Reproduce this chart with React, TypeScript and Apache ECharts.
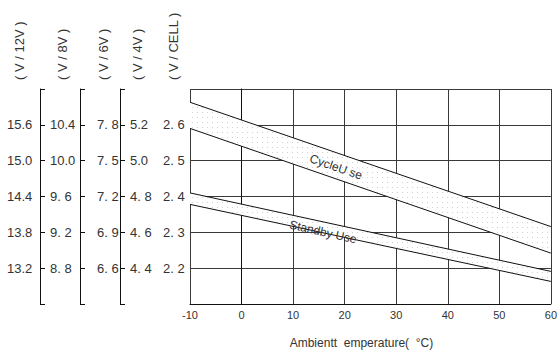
import React, { useEffect, useRef } from "react";
import * as echarts from "echarts";

// Ambient temperature (°C)
const temps = [-10, 60];
// Charging voltage per cell (V/CELL), read at -10 °C and 60 °C
const cycleUpper = [2.663, 2.316];
const cycleLower = [2.59, 2.242];
const standbyUpper = [2.41, 2.191];
const standbyLower = [2.378, 2.163];

// Tick values (V/CELL) and the labels of each voltage column
const cellTicks = [2.6, 2.5, 2.4, 2.3, 2.2];
const cellLabels = ["2. 6", "2. 5", "2. 4", "2. 3", "2. 2"];
const v4Labels = ["5.2", "5.0", "4. 8", "4. 6", "4. 4"];
const v6Labels = ["7. 8", "7. 5", "7. 2", "6. 9", "6. 6"];
const v8Labels = ["10.4", "10.0", "9. 6", "9. 2", "8. 8"];
const v12Labels = ["15.6", "15.0", "14.4", "13.8", "13.2"];
const xTitle = "Ambientt  emperature(  °C)";
const columnTitles = ["( V / 12V )", "( V / 8V )", "( V / 6V )", "( V / 4V )", "( V / CELL )"];
const cycleText = "CycleU se";
const standbyText = "Standby Use";

const FONT = "'Liberation Sans', Arial, Helvetica, sans-serif";
const TXT = "#333";

function labelFor(labels: string[]) {
  return (v: number) => {
    const i = cellTicks.findIndex((t) => Math.abs(t - v) < 1e-6);
    return i < 0 ? "" : labels[i];
  };
}

export default function App() {
  const ref = useRef<HTMLDivElement>(null);
  useEffect(() => {
    if (!ref.current) return;
    const chart = echarts.init(ref.current, undefined, { renderer: "svg" });

    const c = document.createElement("canvas");
    c.width = 5;
    c.height = 5;
    const ctx = c.getContext("2d");
    if (ctx) {
      ctx.fillStyle = "#ffffff";
      ctx.fillRect(0, 0, 5, 5);
      ctx.fillStyle = "#cfcfcf";
      ctx.fillRect(2, 2, 1, 1);
    }
    const pattern: any = { image: c, repeat: "repeat" };

    const pts = (arr: number[]) => temps.map((t, i) => [t, arr[i]]);

    const yBase = { type: "value", min: 2.1, max: 2.7, interval: 0.1, position: "left" };
    const bracketAxis = (offset: number, margin: number, labels: string[]) => ({
      ...yBase,
      offset,
      axisLine: { show: true, lineStyle: { color: "#111", width: 1 } },
      axisTick: { show: true, inside: true, length: 5, lineStyle: { color: "#111" } },
      splitLine: { show: false },
      axisLabel: {
        align: "left",
        margin,
        formatter: labelFor(labels),
        color: TXT,
        fontSize: 13,
        fontFamily: FONT,
      },
    });

    const lineStyle = { color: "#111", width: 1 };
    const titleX = [19, 62, 103, 137, 173];

    const bandSeries = (upper: number[], lower: number[]) => ({
      type: "custom",
      coordinateSystem: "cartesian2d",
      silent: true,
      z: 1,
      data: temps.map((t, i) => [t, upper[i], lower[i]]),
      encode: { x: 0, y: [1, 2] },
      renderItem: (params: any, api: any) => {
        if (params.dataIndex !== 0) return null;
        const top = temps.map((t, i) => api.coord([t, upper[i]]));
        const bottom = temps.map((t, i) => api.coord([t, lower[i]])).reverse();
        return {
          type: "polygon",
          shape: { points: [...top, ...bottom] },
          style: { fill: pattern, stroke: null },
        };
      },
    });

    const lineSeries = (arr: number[]) => ({
      type: "line",
      data: pts(arr),
      showSymbol: false,
      symbol: "none",
      lineStyle,
      silent: true,
      z: 3,
    });

    chart.setOption({
      animation: false,
      grid: { left: 190, right: 4, top: 89, bottom: 41, containLabel: false },
      xAxis: {
        type: "value",
        min: -10,
        max: 60,
        interval: 10,
        name: xTitle,
        nameLocation: "middle",
        nameGap: 33,
        nameTextStyle: { color: TXT, fontSize: 12, fontFamily: FONT, padding: [0, 18, 0, 0] },
        axisLine: { show: true, lineStyle: { color: "#111" } },
        axisTick: { show: false },
        splitLine: { show: true, lineStyle: { color: "#3a3a3a", width: 1 } },
        axisLabel: { color: TXT, fontSize: 11, fontFamily: FONT, margin: 5 },
      },
      yAxis: [
        {
          ...yBase,
          offset: 0,
          axisLine: { show: true, lineStyle: { color: "#111" } },
          axisTick: { show: false },
          splitLine: { show: true, lineStyle: { color: "#3a3a3a", width: 1 } },
          axisLabel: {
            align: "left",
            margin: 27,
            formatter: labelFor(cellLabels),
            color: TXT,
            fontSize: 13,
            fontFamily: FONT,
          },
        },
        {
          ...yBase,
          offset: 0,
          axisLine: { show: false },
          axisTick: { show: false },
          splitLine: { show: false },
          axisLabel: {
            align: "left",
            margin: 60,
            formatter: labelFor(v4Labels),
            color: TXT,
            fontSize: 13,
            fontFamily: FONT,
          },
        },
        bracketAxis(70, 23, v6Labels),
        bracketAxis(110, 30, v8Labels),
        bracketAxis(150, 33, v12Labels),
      ],
      series: [
        bandSeries(cycleUpper, cycleLower),
        bandSeries(standbyUpper, standbyLower),
        lineSeries(cycleUpper),
        lineSeries(cycleLower),
        lineSeries(standbyUpper),
        lineSeries(standbyLower),
      ],
      graphic: [
        ...columnTitles.map((t, i) => ({
          type: "text",
          x: titleX[i],
          y: 80,
          rotation: Math.PI / 2,
          style: {
            text: t,
            fill: TXT,
            fontSize: 13,
            fontFamily: FONT,
            textAlign: "left",
            textVerticalAlign: "middle",
          },
        })),
        {
          type: "text",
          x: 336,
          y: 167,
          z: 10,
          rotation: (-19 * Math.PI) / 180,
          style: {
            text: cycleText,
            fill: TXT,
            fontSize: 12,
            fontFamily: FONT,
            textAlign: "center",
            textVerticalAlign: "middle",
          },
        },
        {
          type: "text",
          x: 323,
          y: 232,
          z: 10,
          rotation: (-13 * Math.PI) / 180,
          style: {
            text: standbyText,
            fill: TXT,
            fontSize: 12,
            fontFamily: FONT,
            textAlign: "center",
            textVerticalAlign: "middle",
          },
        },
      ],
    });
    return () => chart.dispose();
  }, []);
  return <div ref={ref} style={{ width: 560, height: 354, position: "absolute", left: 0, top: 0 }} />;
}
